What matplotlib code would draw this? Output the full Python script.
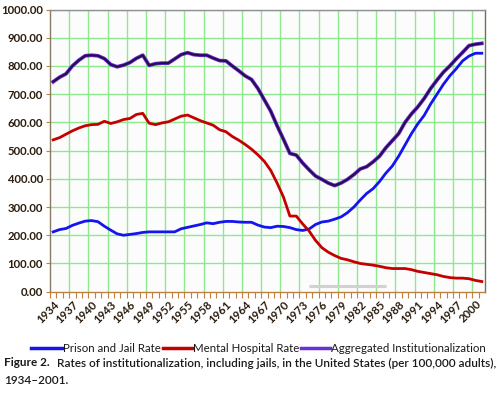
import matplotlib
matplotlib.use("Agg")
import matplotlib.pyplot as plt
from matplotlib.ticker import FixedLocator, FuncFormatter

plt.rcParams['font.family'] = ['Lato', 'DejaVu Sans']

years = list(range(1934, 2002))

prison_jail = [212, 220, 224, 235, 243, 250, 252, 248, 232, 218,
               205, 200, 203, 206, 210, 212, 212, 212, 212, 212,
               223, 228, 233, 238, 244, 241, 246, 249, 249, 247,
               246, 246, 236, 229, 227, 232, 231, 227, 220, 217,
               222, 238, 247, 250, 257, 265, 280, 300, 325, 348,
               365, 390, 420, 445, 480, 520, 560, 595, 625, 665,
               700, 735, 765, 790, 818, 835, 845, 845]

mental_hospital = [538, 546, 558, 570, 580, 588, 592, 593, 604, 596,
                   602, 610, 614, 628, 632, 597, 592, 598, 602, 612,
                   622, 626, 616, 606, 598, 590, 574, 567, 550, 537,
                   522, 505, 485, 462, 430, 385, 335, 268, 268, 240,
                   215, 182, 156, 140, 128, 118, 113, 106, 100, 97,
                   94, 90, 85, 82, 82, 82, 78, 72, 68, 64,
                   60, 54, 50, 48, 48, 46, 40, 36]

aggregated = [744, 760, 772, 800, 820, 836, 838, 836, 826, 805,
              797, 803, 812, 827, 838, 802, 808, 810, 810, 825,
              840, 847, 840, 838, 838, 828, 819, 818, 800, 783,
              765, 752, 720, 680, 640, 588, 540, 490, 484, 456,
              432, 410, 398, 385, 376, 385, 398, 415, 435, 443,
              460, 480, 510, 535, 560, 600, 630, 655, 685, 720,
              750, 778, 800, 825, 848, 872, 877, 880]

artifact_years = [1974, 1986]
artifact_vals = [21, 21]

series_labels = ["Prison and Jail Rate", "Mental Hospital Rate",
                 "Aggregated Institutionalization"]
label_years = list(range(1934, 2001, 3))
y_ticks = list(range(0, 1001, 100))

caption_1 = "Rates of institutionalization, including jails, in the United States (per 100,000 adults),"
caption_2 = "1934\u20132001."

fig = plt.figure(figsize=(5.0, 3.93), dpi=100)
ax = fig.add_axes([0.100, 0.2578, 0.870, 0.718])
ax.set_facecolor('#fcfcfc')

grid_c = '#8ee88e'
for v in y_ticks[1:]:
    ax.axhline(v, color=grid_c, lw=1.0, zorder=1)
for b in range(1936, 2001, 3):
    ax.axvline(b + 0.5, color=grid_c, lw=1.0, zorder=1)

ax.plot(artifact_years, artifact_vals, color='#d2d2d2', lw=2.2, zorder=2,
        solid_capstyle='butt')

blue_c = '#1414f0'
red_c = '#c40000'
purple_c = '#6a30d8'
ax.plot(years, prison_jail, color=blue_c, lw=2.0, zorder=3)
ax.plot(years, mental_hospital, color=red_c, lw=2.0, zorder=3)
ax.plot(years, aggregated, color=purple_c, lw=2.7, zorder=4)
ax.plot(years, aggregated, color='#2a0c4e', lw=1.5, zorder=5)

ax.set_xlim(1933.5, 2001.5)
ax.set_ylim(0, 1000)

tick_c = '#2b1d0e'
ax.yaxis.set_major_locator(FixedLocator(y_ticks))
ax.yaxis.set_major_formatter(FuncFormatter(lambda v, p: f"{v:.2f}"))
ax.tick_params(axis='y', length=3, width=0.8, color='#c08040', pad=2,
               labelsize=8.2, labelcolor=tick_c)
for t in ax.get_yticklabels():
    t.set_fontweight('bold')

ax.set_xticks(label_years)
ax.set_xticklabels([str(y) for y in label_years], rotation=45, ha='right',
                   rotation_mode='anchor', fontsize=8.2, color=tick_c,
                   fontweight='bold')
ax.tick_params(axis='x', which='major', length=0, pad=5)
ax.set_xticks([y + 0.5 for y in range(1933, 2001)], minor=True)
ax.tick_params(axis='x', which='minor', length=4, width=0.8, color='#c08040')

ax.spines['left'].set_color('#8a7a60')
ax.spines['bottom'].set_color('#c08040')
ax.spines['right'].set_color('#707060')
ax.spines['top'].set_color('#909090')
for s in ax.spines.values():
    s.set_linewidth(1.0)

# legend
leg_y = 1 - 348 / 393
items = [(31, 62, blue_c), (163, 192, red_c), (301, 330, purple_c)]
for (x0, x1, c), lab in zip(items, series_labels):
    fig.add_artist(plt.Line2D([x0 / 500, x1 / 500], [leg_y, leg_y],
                              color=c, lw=2.5, transform=fig.transFigure))
    fig.text((x1 + 1) / 500, leg_y, lab, fontsize=8.3, color='#1a1a1a',
             va='center', ha='left')

fig.text(4 / 500, 1 - 363 / 393, "Figure 2.", fontsize=8.5, fontweight='bold',
         color='#1a1a1a', va='center', ha='left')
fig.text(57 / 500, 1 - 363 / 393, caption_1, fontsize=8.5, color='#1a1a1a',
         va='center', ha='left', fontweight='semibold')
fig.text(4 / 500, 1 - 381 / 393, caption_2, fontsize=8.5, color='#1a1a1a',
         va='center', ha='left', fontweight='semibold')

fig.savefig("out.png", dpi=100)
